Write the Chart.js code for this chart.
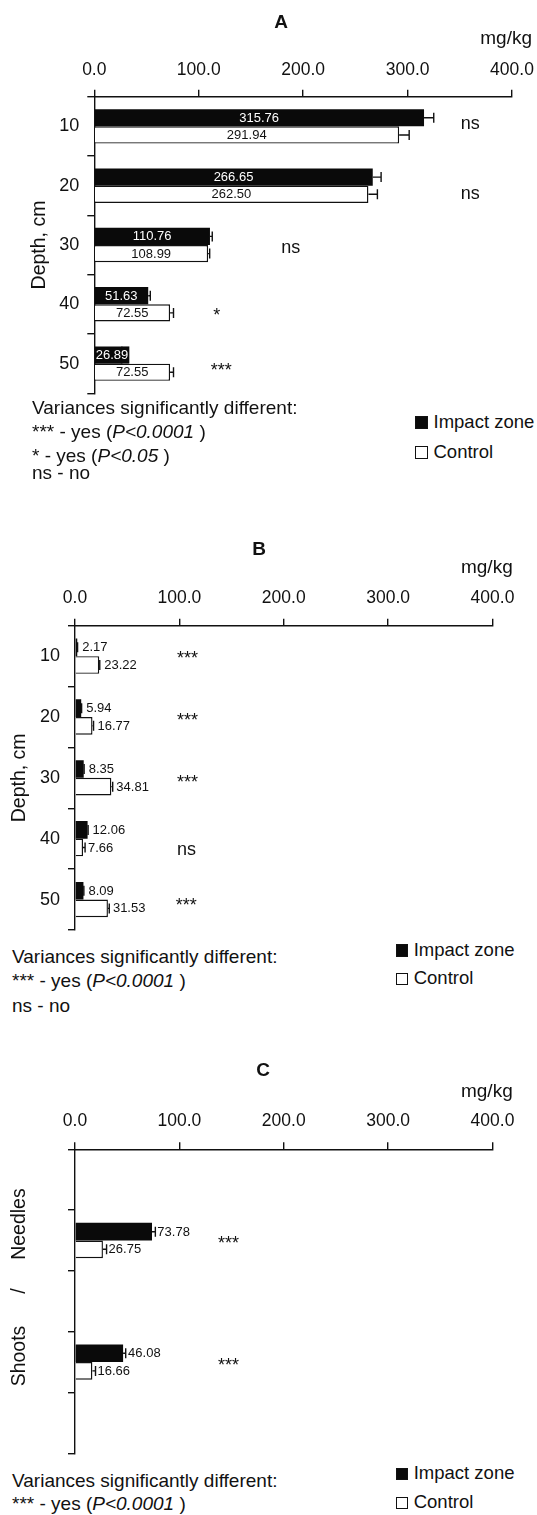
<!DOCTYPE html>
<html><head><meta charset="utf-8">
<script src="https://cdn.jsdelivr.net/npm/chart.js@4.4.1/dist/chart.umd.min.js"></script>
<style>
html,body{margin:0;padding:0;background:#fff;}
#page{position:relative;width:537px;height:1515px;overflow:hidden;font-family:"Liberation Sans",Arial,sans-serif;color:#111;}
canvas{position:absolute;left:0;}
.t{position:absolute;white-space:nowrap;line-height:1;}
.sq{position:absolute;box-sizing:border-box;border:1.4px solid #111;}
</style></head><body><div id="page">
<canvas id="cA" width="537" height="400" style="top:0px"></canvas>
<canvas id="cB" width="537" height="405" style="top:530px"></canvas>
<canvas id="cC" width="537" height="410" style="top:1050px"></canvas>
</div>
<script>
// ---------- data ----------
const seriesNames = ['Impact zone', 'Control'];
const xTicks = [0, 100, 200, 300, 400];
const unitLabel = 'mg/kg';

const depths = ['10', '20', '30', '40', '50'];
const impactA = [315.76, 266.65, 110.76, 51.63, 26.89];
const controlA = [291.94, 262.50, 108.99, 72.55, 72.55];
const impactErrA = [9.3, 8.0, 2.2, 2.0, 0.6];
const controlErrA = [9.6, 8.6, 1.5, 3.3, 3.3];
const sigA = ['ns', 'ns', 'ns', '*', '***'];

const impactB = [2.17, 5.94, 8.35, 12.06, 8.09];
const controlB = [23.22, 16.77, 34.81, 7.66, 31.53];
const impactErrB = [0.3, 0.4, 0.4, 0.5, 0.4];
const controlErrB = [0.5, 1.0, 1.3, 2.0, 1.3];
const sigB = ['***', '***', '***', 'ns', '***'];

const organsC = ['Needles', 'Shoots'];
const impactC = [73.78, 46.08];
const controlC = [26.75, 16.66];
const impactErrC = [3.2, 2.5];
const controlErrC = [3.5, 3.0];
const sigC = ['***', '***'];

// ---------- helpers ----------
const FAM = '"Liberation Sans", Arial, sans-serif';
const INK = '#111';

// C panel: organs sit in every other slot of a 5-slot axis
function slots(arr) { const out = [null]; arr.forEach(v => { out.push(v); out.push(null); }); return out; }
const labelsC = slots(organsC).map(v => v === null ? '' : v);

const annot = {
  id: 'annot',
  afterDatasetsDraw(chart, args, opts) {
    const ctx = chart.ctx, xs = chart.scales.x, ys = chart.scales.y;
    ctx.save();
    // error bars
    chart.data.datasets.forEach((ds, di) => {
      chart.getDatasetMeta(di).data.forEach((el, i) => {
        const v = ds.data[i]; if (v == null) return;
        const xe = xs.getPixelForValue(v + ds.errors[i]);
        ctx.strokeStyle = INK; ctx.lineWidth = 1.4;
        ctx.beginPath();
        ctx.moveTo(el.x, el.y); ctx.lineTo(xe, el.y);
        ctx.moveTo(xe, el.y - 5); ctx.lineTo(xe, el.y + 5);
        ctx.stroke();
      });
    });
    // value labels
    ctx.font = '13px ' + FAM;
    ctx.textBaseline = 'middle'; ctx.textAlign = 'left';
    const base = xs.getPixelForValue(0);
    chart.data.datasets.forEach((ds, di) => {
      chart.getDatasetMeta(di).data.forEach((el, i) => {
        const v = ds.data[i]; if (v == null) return;
        const txt = v.toFixed(2);
        const w = ctx.measureText(txt).width;
        if (opts.labelMode === 'inside') {
          const left = Math.max(base + 1.5, (base + el.x) / 2 - w / 2);
          if (left + w > el.x && di === 0) {
            ctx.fillStyle = ds.backgroundColor;
            ctx.fillRect(el.x - 1, el.y - el.height / 2, left + w + 1 - el.x + 1, el.height);
          }
          ctx.fillStyle = ds.labelColor;
          ctx.fillText(txt, left, el.y + 0.5);
        } else {
          const xe = xs.getPixelForValue(v + ds.errors[i]);
          ctx.fillStyle = INK;
          ctx.fillText(txt, Math.max(el.x + 5, xe + 2), el.y + 0.5);
        }
      });
    });
    // significance marks
    const s = opts.sig;
    ctx.font = '18px ' + FAM; ctx.fillStyle = INK;
    s.labels.forEach((t, i) => {
      ctx.fillText(t, xs.getPixelForValue(s.x[i]), ys.getPixelForValue(s.index[i]) + s.dy[i]);
    });
    // rotated category names (panel C)
    if (opts.rot) {
      ctx.font = '19.5px ' + FAM; ctx.textAlign = 'center';
      opts.rot.items.forEach(it => {
        ctx.save();
        ctx.translate(opts.rot.x, ys.getPixelForValue(it.at));
        ctx.rotate(-Math.PI / 2);
        ctx.fillText(it.text, 0, 0);
        ctx.restore();
      });
    }
    ctx.restore();
  }
};

function makeChart(id, c) {
  return new Chart(document.getElementById(id), {
    type: 'bar',
    data: {
      labels: c.labels,
      datasets: [
        { label: seriesNames[0], data: c.impact, errors: c.impactErr, backgroundColor: '#0a0a0a', borderColor: '#0a0a0a', borderWidth: 0, labelColor: c.impactLabelColor, categoryPercentage: 0.58, barPercentage: 1 },
        { label: seriesNames[1], data: c.control, errors: c.controlErr, backgroundColor: '#ffffff', borderColor: INK, borderWidth: 1.4, labelColor: INK, categoryPercentage: 0.58, barPercentage: 1 }
      ]
    },
    options: {
      indexAxis: 'y', responsive: false, animation: false, devicePixelRatio: 1,
      layout: { padding: { left: 0, right: c.padRight, top: 0, bottom: c.padBottom } },
      plugins: { legend: { display: false }, tooltip: { enabled: false }, annot: { labelMode: c.labelMode, sig: c.sig, rot: c.rot } },
      scales: {
        x: {
          type: 'linear', position: 'top', min: xTicks[0], max: xTicks[xTicks.length - 1],
          afterBuildTicks: s => { s.ticks = xTicks.map(v => ({ value: v })); },
          afterFit: s => { s.height = c.xAxisH; s.paddingLeft = 0; s.paddingRight = 0; },
          ticks: { padding: c.xTickPad, font: { family: FAM, size: 17.5 }, color: INK, maxRotation: 0, autoSkip: false, callback: v => Number(v).toFixed(1) },
          grid: { drawOnChartArea: false, drawTicks: true, tickLength: 7, color: INK, lineWidth: 1.4 },
          border: { display: true, color: INK, width: 1.4 }
        },
        y: {
          position: 'left',
          afterFit: s => { s.width = c.yAxisW; s.paddingTop = 0; s.paddingBottom = 0; },
          ticks: { display: c.showYTicks, padding: 8, font: { family: FAM, size: 18 }, color: INK },
          grid: { drawOnChartArea: false, drawTicks: true, tickLength: 7, color: INK, lineWidth: 1.4, offset: true },
          border: { display: true, color: INK, width: 1.4 },
          title: { display: !!c.yTitle, text: c.yTitle || '', font: { family: FAM, size: 19.5 }, color: INK, padding: { top: c.yTitlePad, bottom: 0 } }
        }
      }
    },
    plugins: [annot]
  });
}

makeChart('cA', {
  labels: depths, impact: impactA, control: controlA, impactErr: impactErrA, controlErr: controlErrA,
  impactLabelColor: '#ffffff', labelMode: 'inside',
  padRight: 25, padBottom: 6.7, xAxisH: 96.7, yAxisW: 94.3, xTickPad: 9.2,
  showYTicks: true, yTitle: 'Depth, cm', yTitlePad: 28.3,
  sig: { labels: sigA, index: [0, 1, 2, 3, 4], x: [351, 351, 179, 114, 111.5], dy: [-2, 8.6, 3, 11.5, 7] }
});

makeChart('cB', {
  labels: depths, impact: impactB, control: controlB, impactErr: impactErrB, controlErr: controlErrB,
  impactLabelColor: INK, labelMode: 'outside',
  padRight: 44.5, padBottom: 5, xAxisH: 95.7, yAxisW: 75, xTickPad: 9.9,
  showYTicks: true, yTitle: 'Depth, cm', yTitlePad: 8.3,
  sig: { labels: sigB, index: [0, 1, 2, 3, 4], x: [97.7, 97.7, 97.7, 97.7, 96.5], dy: [3.4, 4, 5, 11, 6] }
});

makeChart('cC', {
  labels: labelsC, impact: slots(impactC), control: slots(controlC), impactErr: slots(impactErrC), controlErr: slots(controlErrC),
  impactLabelColor: INK, labelMode: 'outside',
  padRight: 44.5, padBottom: 6.7, xAxisH: 99.3, yAxisW: 75, xTickPad: 11,
  showYTicks: false, yTitle: '', yTitlePad: 0,
  sig: { labels: sigC, index: [1, 3], x: [137, 137], dy: [4, 4] },
  rot: { x: 20, items: [ { text: organsC[0], at: 0.73 }, { text: '/', at: 1.83 }, { text: organsC[1], at: 2.9 } ] }
});

// ---------- page text (titles, units, notes, legends) ----------
const page = document.getElementById('page');
function put(html, x, base, size, opt) {
  opt = opt || {};
  const d = document.createElement('div'); d.className = 't';
  d.style.fontSize = size + 'px';
  d.style.top = (base - 0.8465 * size) + 'px';
  if (opt.bold) d.style.fontWeight = 'bold';
  if (opt.align === 'right') d.style.right = (537 - x) + 'px';
  else if (opt.align === 'center') { d.style.left = x + 'px'; d.style.transform = 'translateX(-50%)'; }
  else d.style.left = x + 'px';
  d.innerHTML = html;
  page.appendChild(d);
}
function legend(x, top1, top2, textX, size) {
  const s1 = document.createElement('div'); s1.className = 'sq';
  Object.assign(s1.style, { left: x + 'px', top: top1 + 'px', width: '12.5px', height: '12.5px', background: '#0a0a0a' });
  const s2 = document.createElement('div'); s2.className = 'sq';
  Object.assign(s2.style, { left: x + 'px', top: top2 + 'px', width: '12.5px', height: '12.5px', background: '#fff' });
  page.appendChild(s1); page.appendChild(s2);
  put(seriesNames[0], textX, top1 + 12.5, size);
  put(seriesNames[1], textX, top2 + 12.5, size);
}
const N1 = 'Variances significantly different:';
const N3 = '*** - yes (<i>P&lt;0.0001</i> )';
const N1s = '* - yes (<i>P&lt;0.05</i> )';
const NNS = 'ns - no';

// Panel A
put('A', 281, 28.5, 19, { bold: true, align: 'center' });
put(unitLabel, 532, 44, 19, { align: 'right' });
put(N1, 32, 414, 19); put(N3, 32, 438, 19); put(N1s, 32, 462, 19); put(NNS, 32, 479, 19);
legend(415, 416, 446, 433.5, 18.5);

// Panel B
put('B', 259, 554.8, 19, { bold: true, align: 'center' });
put(unitLabel, 512.7, 573, 19, { align: 'right' });
put(N1, 12, 963, 19); put(N3, 12, 987, 19); put(NNS, 12, 1012, 19);
legend(395.5, 944.3, 972.5, 413.7, 18.5);

// Panel C
put('C', 263, 1076, 19, { bold: true, align: 'center' });
put(unitLabel, 512.7, 1097, 19, { align: 'right' });
put(N1, 12, 1487, 19); put(N3, 12, 1510, 19);
legend(395.5, 1467.5, 1496.5, 413.7, 18.5);
</script>
</body></html>
